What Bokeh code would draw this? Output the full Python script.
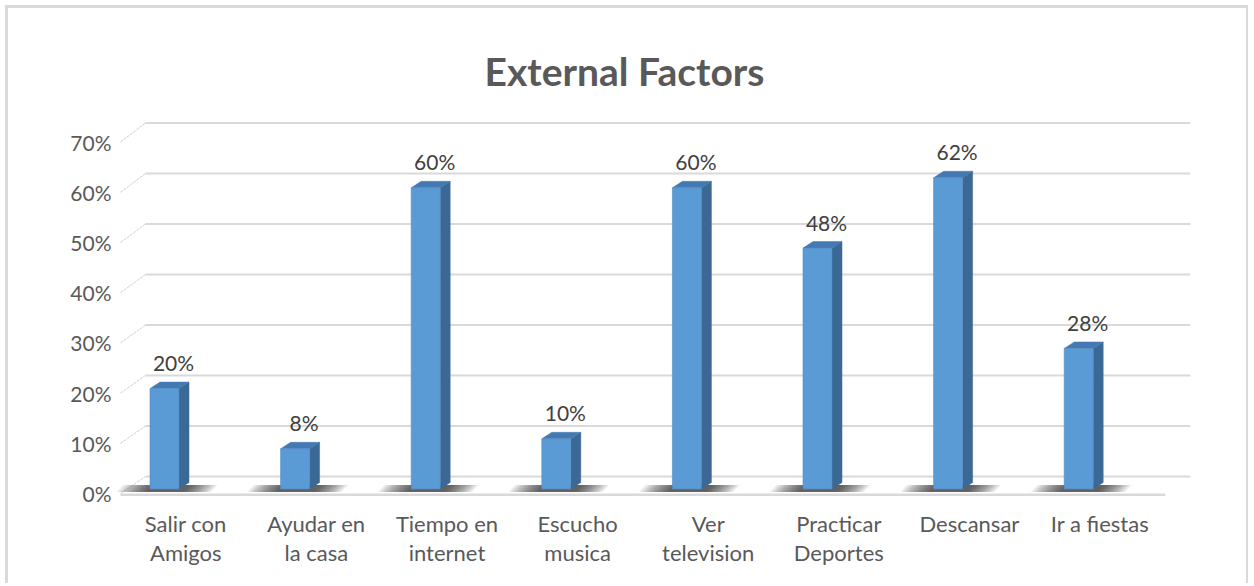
from bokeh.plotting import figure
from bokeh.models import Range1d, FixedTicker
from bokeh.core.properties import value
from bokeh.embed import file_html
from bokeh.resources import INLINE

# ---------------- data ----------------
title = "External Factors"
categories = ["Salir con Amigos", "Ayudar en la casa", "Tiempo en internet", "Escucho musica",
              "Ver television", "Practicar Deportes", "Descansar", "Ir a fiestas"]
category_labels = ["Salir con\nAmigos", "Ayudar en\nla casa", "Tiempo en\ninternet", "Escucho\nmusica",
                   "Ver\ntelevision", "Practicar\nDeportes", "Descansar", "Ir a fiestas"]
values = [20, 8, 60, 10, 60, 48, 62, 28]
y_ticks = [0, 10, 20, 30, 40, 50, 60, 70]
y_tick_labels = ["0%", "10%", "20%", "30%", "40%", "50%", "60%", "70%"]

# ---------------- style constants (pseudo-3D projection) ----------------
PX_U = 130.6          # pixels per category unit
PX_V = 5.02           # pixels per percent
FONT = "Lato"
BLUE_FRONT = "#5B9BD5"
BLUE_SIDE = "#3B6894"
BLUE_TOP = "#4479B3"
GRID = "#D9D9D9"
TXT = "#595959"

bar_off = 44 / PX_U           # front face centre offset inside category
bar_w = 29 / PX_U
bar_base = 4.5 / PX_V
dx = 10 / PX_U
dy = 6.5 / PX_V
wall_dx = 25 / PX_U
wall_dy = 17 / PX_V
wall_scale = 1.006
n = len(categories)

p = figure(width=1243, height=578,
           x_range=Range1d(-4 / PX_U, 1125 / PX_U),
           y_range=Range1d(-7 / PX_V, 481 / PX_V),
           output_backend="svg", toolbar_location=None,
           min_border_left=108, min_border_right=6, min_border_top=4, min_border_bottom=86)
p.title.visible = False
p.margin = (5, 0, 0, 5)
p.styles = {"border-left": "3px solid #D9D9D9", "border-top": "3px solid #D9D9D9",
            "border-right": "2px solid #D9D9D9"}
p.outline_line_color = None
p.background_fill_color = "white"
p.border_fill_color = "white"
p.xgrid.visible = False
p.ygrid.visible = False

# back wall gridlines + connectors
gy = [wall_dy + t * wall_scale for t in y_ticks]
p.segment(x0=[wall_dx] * len(y_ticks), x1=[n + wall_dx] * len(y_ticks), y0=gy, y1=gy,
          line_color=GRID, line_width=2.2)
p.segment(x0=[0] * len(y_ticks), x1=[wall_dx] * len(y_ticks), y0=y_ticks, y1=gy,
          line_color="#CFCFCF", line_width=1, line_dash="3 1")
# front floor edge
p.segment(x0=[0], x1=[n], y0=[-0.25], y1=[-0.25], line_color=GRID, line_width=2.6)

# soft shadows on the floor
centers = [i + bar_off for i in range(n)]
sxs, sys = [], []
for c in centers:
    for k in range(12):
        hl = (48 - 2.6 * k) / PX_U
        hr = (46 - 2.4 * k) / PX_U
        sh = 7 / PX_U
        sxs.append([c - hl, c + hr, c + hr + sh, c - hl + sh])
        sys.append([0.3, 0.3, 1.7, 1.7])
p.patches(xs=sxs, ys=sys, fill_color="black", fill_alpha=0.075, line_color=None)

# bars: side, top, front
tops = [bar_base + v for v in values]
side_x, side_y, top_x, top_y = [], [], [], []
for c, t in zip(centers, tops):
    xl, xr = c - bar_w / 2, c + bar_w / 2
    side_x.append([xr, xr + dx, xr + dx, xr])
    side_y.append([bar_base, bar_base + dy, t + dy, t])
    top_x.append([xl, xl + dx, xr + dx, xr])
    top_y.append([t, t + dy, t + dy, t])
p.patches(xs=side_x, ys=side_y, fill_color=BLUE_SIDE, line_color=BLUE_SIDE, line_width=0.5)
p.patches(xs=top_x, ys=top_y, fill_color=BLUE_TOP, line_color=BLUE_TOP, line_width=0.5)
p.vbar(x=centers, width=bar_w, bottom=bar_base, top=tops, fill_color=BLUE_FRONT,
       line_color="#4F8CC6", line_width=0.6)

# data labels
p.text(x=[c + 9 / PX_U for c in centers], y=[t + 26 / PX_V for t in tops],
       text=[f"{v}%" for v in values], text_font=value(FONT), text_font_size="21px",
       text_color="#404040", text_align="center", text_baseline="middle")

# title
p.text(x=[504 / PX_U], y=[423 / PX_V], text=[title], text_font=value(FONT),
       text_font_style="bold", text_font_size="39px", text_color=TXT,
       text_align="center", text_baseline="alphabetic")

# axes
p.yaxis.ticker = FixedTicker(ticks=y_ticks)
p.yaxis.major_label_overrides = {t: l for t, l in zip(y_ticks, y_tick_labels)}
p.yaxis.axis_line_color = None
p.yaxis.major_tick_line_color = None
p.yaxis.minor_tick_line_color = None
p.yaxis.major_tick_out = 0
p.yaxis.major_label_standoff = 5
p.yaxis.major_label_text_font = FONT
p.yaxis.major_label_text_font_size = "21px"
p.yaxis.major_label_text_color = TXT

x_ticks = [i + 0.5 for i in range(n)]
p.xaxis.ticker = FixedTicker(ticks=x_ticks)
p.xaxis.major_label_overrides = {t: l for t, l in zip(x_ticks, category_labels)}
p.xaxis.axis_line_color = None
p.xaxis.major_tick_line_color = None
p.xaxis.minor_tick_line_color = None
p.xaxis.major_tick_out = 0
p.xaxis.major_label_standoff = 9
p.xaxis.major_label_text_font = FONT
p.xaxis.major_label_text_font_size = "22px"
p.xaxis.major_label_text_color = TXT
p.xaxis.major_label_text_line_height = 1.1

open("out.html", "w").write(file_html(p, INLINE))
